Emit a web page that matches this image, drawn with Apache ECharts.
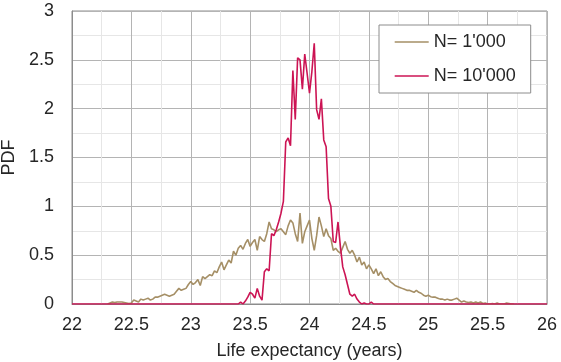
<!DOCTYPE html>
<html>
<head>
<meta charset="utf-8">
<script src="https://cdn.jsdelivr.net/npm/echarts@6/dist/echarts.min.js"></script>
<style>
  html, body { margin: 0; padding: 0; background: #fff; }
  #chart { width: 561px; height: 362px; }
</style>
</head>
<body>
<div id="chart"></div>
<script>
// N = 1'000 runs (bin centres and PDF values)
const tanX = [
  22.30, 22.32, 22.34, 22.36, 22.38, 22.40, 22.42, 22.44, 22.46, 22.48,
  22.50, 22.52, 22.54, 22.56, 22.58, 22.60, 22.62, 22.64, 22.66, 22.68,
  22.70, 22.72, 22.74, 22.76, 22.78, 22.80, 22.82, 22.84, 22.86, 22.88,
  22.90, 22.92, 22.94, 22.96, 22.98, 23.00, 23.02, 23.04, 23.06, 23.08,
  23.10, 23.12, 23.14, 23.16, 23.18, 23.20, 23.22, 23.24, 23.26, 23.28,
  23.30, 23.32, 23.34, 23.36, 23.38, 23.40, 23.42, 23.44, 23.46, 23.48,
  23.50, 23.52, 23.54, 23.56, 23.58, 23.60, 23.62, 23.64, 23.66, 23.68,
  23.70, 23.72, 23.74, 23.76, 23.78, 23.80, 23.82, 23.84, 23.86, 23.88,
  23.90, 23.92, 23.94, 23.96, 23.98, 24.00, 24.02, 24.04, 24.06, 24.08,
  24.10, 24.12, 24.14, 24.16, 24.18, 24.20, 24.22, 24.24, 24.26, 24.28,
  24.30, 24.32, 24.34, 24.36, 24.38, 24.40, 24.42, 24.44, 24.46, 24.48,
  24.50, 24.52, 24.54, 24.56, 24.58, 24.60, 24.62, 24.64, 24.66, 24.68,
  24.70, 24.72, 24.74, 24.76, 24.78, 24.80, 24.82, 24.84, 24.86, 24.88,
  24.90, 24.92, 24.94, 24.96, 24.98, 25.00, 25.02, 25.04, 25.06, 25.08,
  25.10, 25.12, 25.14, 25.16, 25.18, 25.20, 25.22, 25.24, 25.26, 25.28,
  25.30, 25.32, 25.34, 25.36, 25.38, 25.40, 25.42, 25.44, 25.46, 25.48,
  25.50, 25.52, 25.54, 25.56, 25.58, 25.60, 25.62, 25.64, 25.66, 25.68,
  25.70, 25.72
];
const tanY = [
  0.00, 0.01, 0.02, 0.015, 0.02, 0.02, 0.02, 0.015, 0.01, 0.005,
  0.01, 0.04, 0.03, 0.02, 0.05, 0.04, 0.05, 0.06, 0.04, 0.05,
  0.07, 0.07, 0.08, 0.09, 0.10, 0.09, 0.08, 0.09, 0.10, 0.13,
  0.16, 0.14, 0.15, 0.16, 0.20, 0.23, 0.20, 0.22, 0.25, 0.19,
  0.28, 0.26, 0.28, 0.30, 0.29, 0.34, 0.32, 0.38, 0.43, 0.35,
  0.40, 0.45, 0.42, 0.54, 0.50, 0.57, 0.60, 0.56, 0.62, 0.66,
  0.59, 0.63, 0.66, 0.55, 0.69, 0.66, 0.64, 0.72, 0.84, 0.77,
  0.76, 0.74, 0.76, 0.77, 0.74, 0.71, 0.80, 0.86, 0.83, 0.72,
  0.64, 0.93, 0.62, 0.74, 0.80, 0.86, 0.67, 0.55, 0.70, 0.89,
  0.80, 0.69, 0.77, 0.70, 0.67, 0.55, 0.57, 0.54, 0.52, 0.58,
  0.64, 0.56, 0.52, 0.55, 0.50, 0.43, 0.48, 0.40, 0.43, 0.36,
  0.40, 0.36, 0.31, 0.36, 0.29, 0.33, 0.28, 0.25, 0.26, 0.23,
  0.21, 0.19, 0.18, 0.17, 0.16, 0.15, 0.14, 0.14, 0.13, 0.12,
  0.14, 0.12, 0.11, 0.09, 0.08, 0.09, 0.075, 0.07, 0.07, 0.06,
  0.05, 0.05, 0.04, 0.05, 0.04, 0.04, 0.05, 0.06, 0.04, 0.02,
  0.03, 0.02, 0.015, 0.02, 0.01, 0.02, 0.01, 0.02, 0.005, 0.01,
  0.00, 0.00, 0.005, 0.00, 0.01, 0.00, 0.00, 0.00, 0.01, 0.005,
  0.00, 0.00
];

// N = 10'000 runs
const redX = [
  22.00,
  23.40, 23.42, 23.44, 23.46, 23.48, 23.50, 23.52, 23.54, 23.56, 23.58,
  23.60, 23.62, 23.64, 23.66, 23.68, 23.70, 23.72, 23.74, 23.76, 23.78,
  23.80, 23.82, 23.84, 23.86, 23.88, 23.90, 23.92, 23.94, 23.96, 23.98,
  24.00, 24.02, 24.04, 24.06, 24.08, 24.10, 24.12, 24.14, 24.16, 24.18,
  24.20, 24.22, 24.24, 24.26, 24.28, 24.30, 24.32, 24.34, 24.36, 24.38,
  24.40, 24.42, 24.44, 24.46, 24.48, 24.50, 24.52, 24.54,
  26.00
];
const redY = [
  0,
  0.00, 0.02, 0.00, 0.03, 0.07, 0.12, 0.10, 0.06, 0.16, 0.08,
  0.04, 0.33, 0.36, 0.34, 0.72, 0.70, 0.76, 0.84, 0.93, 1.05,
  1.66, 1.70, 1.62, 2.39, 1.89, 2.52, 2.50, 2.20, 2.56, 2.36,
  2.16, 2.38, 2.67, 1.99, 1.89, 2.10, 1.68, 1.61, 1.08, 1.00,
  0.64, 0.63, 0.84, 0.59, 0.38, 0.30, 0.20, 0.10, 0.08, 0.10,
  0.05, 0.02, 0.00, 0.01, 0.00, 0.00, 0.02, 0.00,
  0
];

const seriesNames = ["N= 1'000", "N= 10'000"];
const seriesColors = ['#a58f66', '#cc1454'];

const toPairs = (xs, ys) => xs.map((x, i) => [x, ys[i]]);

const chart = echarts.init(document.getElementById('chart'), null, { renderer: 'canvas' });

const font = 'Liberation Sans, Arial, sans-serif';

const option = {
  backgroundColor: '#fff',
  animation: false,
  textStyle: { fontFamily: font },
  grid: {
    left: 72,
    right: 14,
    top: 11,
    bottom: 58,
    containLabel: false,
    outerBoundsMode: 'none',
    show: true,
    borderColor: '#8c8c8c',
    borderWidth: 1
  },
  legend: {
    left: 379,
    top: 25,
    orient: 'vertical',
    padding: [8, 15, 8, 15],
    itemWidth: 34,
    itemHeight: 14,
    itemGap: 16,
    backgroundColor: '#fff',
    borderColor: '#8c8c8c',
    borderWidth: 1,
    borderRadius: 0,
    itemStyle: { opacity: 0 },
    lineStyle: { width: 1.4 },
    textStyle: { fontSize: 18, color: '#262626', fontFamily: font },
    data: seriesNames
  },
  xAxis: {
    type: 'value',
    min: 22,
    max: 26,
    interval: 0.5,
    name: 'Life expectancy (years)',
    nameLocation: 'middle',
    nameGap: 38,
    nameTextStyle: { fontSize: 18, color: '#262626', fontFamily: font },
    axisLine: { show: true, lineStyle: { color: '#8c8c8c', width: 1 } },
    axisTick: { show: false },
    axisLabel: { fontSize: 18, color: '#262626', margin: 12, fontFamily: font },
    splitLine: { show: true, lineStyle: { color: '#b4b4b4', width: 1 } },
    minorTick: { show: false, splitNumber: 2 },
    minorSplitLine: { show: true, lineStyle: { color: '#e6e6e6', width: 1 } }
  },
  yAxis: {
    type: 'value',
    min: 0,
    max: 3,
    interval: 0.5,
    name: 'PDF',
    nameLocation: 'middle',
    nameGap: 54,
    nameTextStyle: { fontSize: 18, color: '#262626', fontFamily: font },
    axisLine: { show: true, lineStyle: { color: '#8c8c8c', width: 1 } },
    axisTick: { show: false },
    axisLabel: { fontSize: 18, color: '#262626', margin: 18, fontFamily: font },
    splitLine: { show: true, lineStyle: { color: '#b4b4b4', width: 1 } },
    minorTick: { show: false, splitNumber: 2 },
    minorSplitLine: { show: true, lineStyle: { color: '#e6e6e6', width: 1 } }
  },
  series: [
    {
      name: seriesNames[0],
      type: 'line',
      data: toPairs(tanX, tanY),
      symbol: 'none',
      color: seriesColors[0],
      lineStyle: { width: 1.6, color: seriesColors[0] },
      z: 2
    },
    {
      name: seriesNames[1],
      type: 'line',
      data: toPairs(redX, redY),
      symbol: 'none',
      color: seriesColors[1],
      lineStyle: { width: 1.6, color: seriesColors[1] },
      z: 3
    }
  ]
};

chart.setOption(option);
</script>
</body>
</html>
